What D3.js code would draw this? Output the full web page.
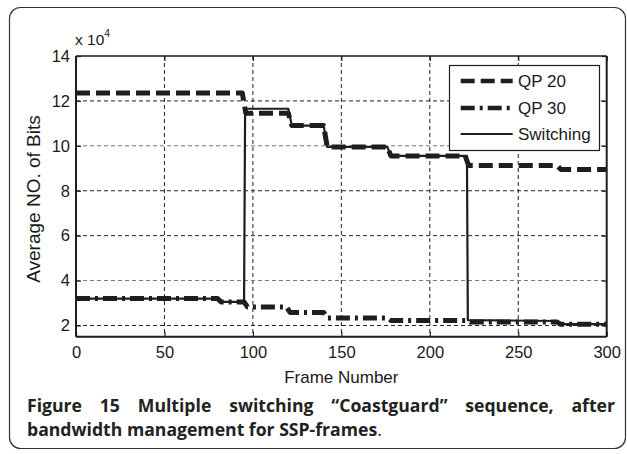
<!DOCTYPE html>
<html><head><meta charset="utf-8">
<script src="https://cdn.jsdelivr.net/npm/d3@7"></script>
<style>body{margin:0;background:#fff}svg{display:block}</style>
</head><body>
<svg id="c" width="627" height="454"></svg>
<script>
const xTicks = [0, 50, 100, 150, 200, 250, 300];
const yTicks = [2, 4, 6, 8, 10, 12, 14];
const seriesNames = ["QP 20", "QP 30", "Switching"];
const qp20Frames = [0, 94, 96, 120, 122, 140, 142, 176, 178, 220, 222, 272, 274, 300];
const qp20Values = [12.35, 12.35, 11.45, 11.45, 10.9, 10.9, 9.95, 9.95, 9.55, 9.55, 9.12, 9.12, 8.95, 8.95];
const qp30Frames = [0, 80, 82, 95, 97, 119, 121, 140, 142, 176, 178, 221, 223, 272, 274, 300];
const qp30Values = [3.2, 3.2, 3.05, 3.05, 2.82, 2.82, 2.58, 2.58, 2.33, 2.33, 2.22, 2.22, 2.15, 2.15, 2.05, 2.05];
const swFrames = [0, 80, 82, 95, 95.6, 120, 122, 140, 142, 176, 178, 221, 221.5, 272, 274, 300];
const swValues = [3.2, 3.2, 3.05, 3.05, 11.65, 11.65, 10.9, 10.9, 9.95, 9.95, 9.55, 9.55, 2.24, 2.2, 2.06, 2.06];

const svg = d3.select("#c");
const L = 76, R = 606.7, T = 56, B = 336.7;
const x = d3.scaleLinear().domain([0, 300]).range([L, R]);
const y = d3.scaleLinear().domain([1.5, 14]).range([B, T]);
const ink = "#1e1e1e";

// outer frame
svg.append("rect").attr("x", 9.5).attr("y", 7.5).attr("width", 616).attr("height", 441)
  .attr("rx", 11).attr("fill", "none").attr("stroke", "#333").attr("stroke-width", 1.2);

// grid
const g = svg.append("g");
g.selectAll(".vg").data(xTicks.slice(1, -1)).enter().append("line")
  .attr("x1", d => x(d)).attr("x2", d => x(d)).attr("y1", T).attr("y2", B)
  .attr("stroke", "#222").attr("stroke-width", 1).attr("stroke-dasharray", "4,3");
g.selectAll(".hg").data(yTicks.filter(d => d < 14)).enter().append("line")
  .attr("x1", L).attr("x2", R).attr("y1", d => y(d)).attr("y2", d => y(d))
  .attr("stroke", (d) => (d === 10 || d === 4) ? "#777" : "#222").attr("stroke-width", 1).attr("stroke-dasharray", "4,3");

// axes
const font = "'Liberation Sans', Arial, sans-serif";
const xa = svg.append("g").attr("transform", `translate(0,${B})`)
  .call(d3.axisBottom(x).tickValues(xTicks).tickSize(-5).tickPadding(10));
const xt = svg.append("g").attr("transform", `translate(0,${T})`)
  .call(d3.axisTop(x).tickValues(xTicks).tickSize(-5).tickFormat(""));
const ya = svg.append("g").attr("transform", `translate(${L},0)`)
  .call(d3.axisLeft(y).tickValues(yTicks).tickSize(-5).tickPadding(6));
const yr = svg.append("g").attr("transform", `translate(${R},0)`)
  .call(d3.axisRight(y).tickValues(yTicks).tickSize(-5).tickFormat(""));
[xa, xt, ya, yr].forEach(a => {
  a.select(".domain").attr("stroke", ink).attr("stroke-width", 2);
  a.selectAll(".tick line").attr("stroke", ink).attr("stroke-width", 1.2);
  a.selectAll("text").attr("font-family", font).attr("font-size", 16.5).attr("fill", "#1a1a1a");
});
xa.select(".domain").attr("d", `M${L},0H${R}`);
xt.select(".domain").attr("d", `M${L},0H${R}`).attr("stroke-width", 1.5);
ya.select(".domain").attr("d", `M0,${B}V${T}`);
yr.select(".domain").attr("d", `M0,${B}V${T}`);

// exponent label
const ex = svg.append("text").attr("x", 75).attr("y", 45).attr("font-family", font).attr("font-size", 15.5).attr("fill", "#1a1a1a");
ex.append("tspan").text("x 10");
ex.append("tspan").attr("font-size", 10.5).attr("dy", -8).text("4");

// axis titles
svg.append("text").attr("x", x(150)).attr("y", 383).attr("text-anchor", "middle")
  .attr("font-family", font).attr("font-size", 17).attr("fill", "#1a1a1a").text("Frame Number");
svg.append("text").attr("transform", `translate(40,199) rotate(-90)`).attr("text-anchor", "middle")
  .attr("font-family", font).attr("font-size", 19).attr("fill", "#1a1a1a").text("Average NO. of Bits");

// series
const line = d3.line().x(d => x(d[0])).y(d => y(d[1]));
const series = [
  { f: qp20Frames, v: qp20Values, w: 5, dash: "14,6" },
  { f: qp30Frames, v: qp30Values, w: 5, dash: "14,5,3,5" },
  { f: swFrames, v: swValues, w: 2.2, dash: null }
];
const plot = svg.append("g");
series.forEach(s => {
  plot.append("path").datum(d3.zip(s.f, s.v)).attr("d", line)
    .attr("fill", "none").attr("stroke", ink).attr("stroke-width", s.w)
    .attr("stroke-dasharray", s.dash).attr("stroke-linejoin", "round");
});

// legend
const lg = svg.append("g");
lg.append("rect").attr("x", 449.5).attr("y", 65.5).attr("width", 150).attr("height", 85)
  .attr("fill", "#fff").attr("stroke", ink).attr("stroke-width", 1.2);
const rows = [81, 108, 134];
series.forEach((s, i) => {
  lg.append("line").attr("x1", 460.7).attr("x2", 512.7).attr("y1", rows[i]).attr("y2", rows[i])
    .attr("stroke", ink).attr("stroke-width", s.w === 5 ? 4.5 : 2).attr("stroke-dasharray", s.dash);
  lg.append("text").attr("x", 518).attr("y", rows[i] + 6).attr("font-family", font)
    .attr("font-size", 17).attr("fill", "#1a1a1a").text(seriesNames[i]);
});

// caption
const cf = "'Open Sans', 'DejaVu Sans', sans-serif";
const c2 = svg.append("text").attr("x", 27).attr("y", 436).attr("font-family", cf).attr("font-size", 16).attr("fill", "#222");
c2.append("tspan").attr("font-weight", "bold").text("bandwidth management for SSP-frames");
c2.append("tspan").attr("font-weight", "normal").text(".");
const w2 = c2.node().getComputedTextLength();
const fs = 16 * 355 / w2;
c2.attr("font-size", fs);
const c1 = svg.append("text").attr("x", 27).attr("y", 412).attr("font-family", cf).attr("font-size", fs).attr("fill", "#222").attr("font-weight", "bold");
c1.append("tspan").text("Figure 15");
c1.append("tspan").text(" Multiple switching \u201CCoastguard\u201D sequence, after");
const target = 615 - 27;
const w = c1.node().getComputedTextLength();
if (w < target) c1.attr("word-spacing", (target - w) / 6);
else c1.attr("textLength", target).attr("lengthAdjust", "spacing");
</script>
</body></html>
